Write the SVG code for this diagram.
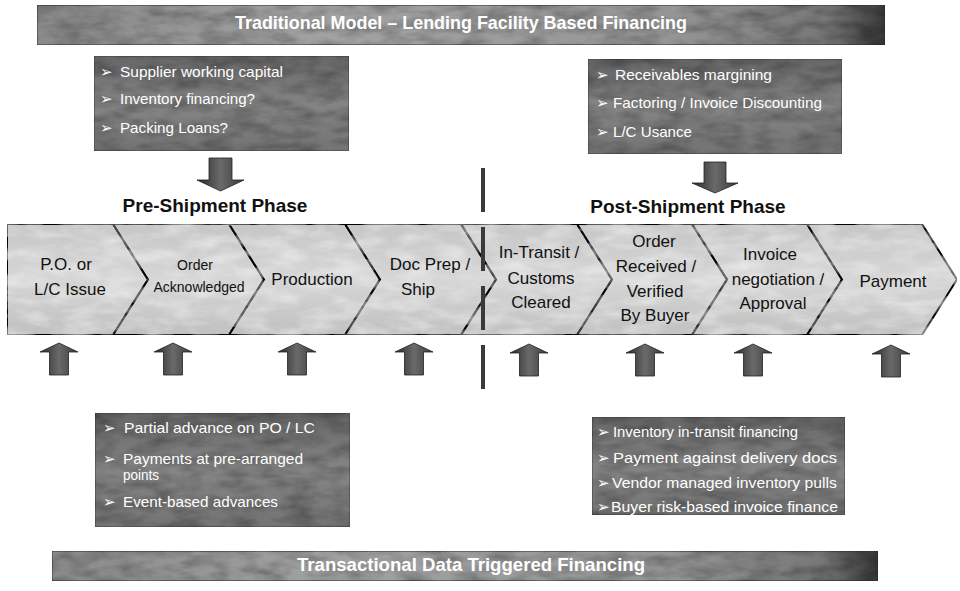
<svg xmlns="http://www.w3.org/2000/svg" width="960" height="591" viewBox="0 0 960 591">
<defs>
  <filter id="mottle" x="0" y="0" width="1" height="1">
    <feTurbulence type="fractalNoise" baseFrequency="0.035 0.09" numOctaves="3" seed="7" result="n"/>
    <feColorMatrix in="n" type="matrix" values="0 0 0 0 0  0 0 0 0 0  0 0 0 0 0  0 0 0 0.9 -0.3" result="shade"/>
    <feComposite in="shade" in2="SourceGraphic" operator="in" result="s"/>
    <feMerge><feMergeNode in="SourceGraphic"/><feMergeNode in="s"/></feMerge>
  </filter>
  <filter id="mottleLight" x="0" y="0" width="1" height="1">
    <feTurbulence type="fractalNoise" baseFrequency="0.03 0.08" numOctaves="3" seed="11" result="n"/>
    <feColorMatrix in="n" type="matrix" values="0 0 0 0 1  0 0 0 0 1  0 0 0 0 1  0 0 0 0.8 -0.3" result="shade"/>
    <feComposite in="shade" in2="SourceGraphic" operator="in" result="s"/>
    <feMerge><feMergeNode in="SourceGraphic"/><feMergeNode in="s"/></feMerge>
  </filter>
  <linearGradient id="bannerG" x1="0" y1="0" x2="1" y2="0">
    <stop offset="0" stop-color="#8a8a8a"/>
    <stop offset="0.35" stop-color="#a2a2a2"/>
    <stop offset="0.75" stop-color="#959595"/>
    <stop offset="0.93" stop-color="#777"/>
    <stop offset="1" stop-color="#3a3a3a"/>
  </linearGradient>
  <linearGradient id="boxG" x1="0" y1="0" x2="0" y2="1">
    <stop offset="0" stop-color="#666"/>
    <stop offset="0.5" stop-color="#858585"/>
    <stop offset="1" stop-color="#737373"/>
  </linearGradient>
  <linearGradient id="chevG" x1="0" y1="0" x2="0" y2="1">
    <stop offset="0" stop-color="#c6c6c6"/>
    <stop offset="0.5" stop-color="#d6d6d6"/>
    <stop offset="1" stop-color="#c0c0c0"/>
  </linearGradient>
  <linearGradient id="arrowG" x1="0" y1="0" x2="1" y2="0">
    <stop offset="0" stop-color="#2a2a2a"/>
    <stop offset="0.5" stop-color="#6a6a6a"/>
    <stop offset="1" stop-color="#3a3a3a"/>
  </linearGradient>
  <style>
    .banner { fill: url(#bannerG); stroke: #333; stroke-width: 1; }
    .btxt { font-family: "Liberation Sans", Arial, sans-serif; font-size: 19px; font-weight: bold; fill: #fff; text-anchor: middle; }
    .box { fill: url(#boxG); stroke: #444; stroke-width: 1; }
    .ltxt { font-family: "Liberation Sans", Arial, sans-serif; font-size: 15px; fill: #fff; }
    .bul { font-family: "DejaVu Sans", sans-serif; font-size: 15px; fill: #fff; }
    .chev { fill: url(#chevG); stroke: #000; stroke-width: 2; stroke-linejoin: miter; }
    .ctxt { font-family: "Liberation Sans", Arial, sans-serif; font-size: 17px; fill: #111; text-anchor: middle; }
    .stxt { font-family: "Liberation Sans", Arial, sans-serif; font-size: 14px; fill: #111; text-anchor: middle; }
    .phase { font-family: "Liberation Sans", Arial, sans-serif; font-size: 19px; font-weight: bold; fill: #111; text-anchor: middle; }
    .blk { fill: url(#arrowG); stroke: #222; stroke-width: 0.8; }
  </style>
</defs>
<rect width="960" height="591" fill="#fff"/>

<g id="top-banner">
  <rect class="banner" x="37" y="5" width="848" height="40" filter="url(#mottle)"/>
  <text class="btxt" x="461" y="29" textLength="452" lengthAdjust="spacingAndGlyphs">Traditional Model – Lending Facility Based Financing</text>
</g>

<g id="pre-lending-box">
  <rect class="box" x="94" y="56" width="255" height="95" filter="url(#mottle)"/>
  <text class="bul" x="100" y="77">➢</text>
  <text class="ltxt" x="120" y="77" textLength="163" lengthAdjust="spacingAndGlyphs">Supplier working capital</text>
  <text class="bul" x="100" y="104">➢</text>
  <text class="ltxt" x="120" y="104" textLength="135" lengthAdjust="spacingAndGlyphs">Inventory financing?</text>
  <text class="bul" x="100" y="133">➢</text>
  <text class="ltxt" x="120" y="133" textLength="108" lengthAdjust="spacingAndGlyphs">Packing Loans?</text>
</g>

<g id="post-lending-box">
  <rect class="box" x="588" y="59" width="254" height="95" filter="url(#mottle)"/>
  <text class="bul" x="596" y="80">➢</text>
  <text class="ltxt" x="615" y="80" textLength="157" lengthAdjust="spacingAndGlyphs">Receivables margining</text>
  <text class="bul" x="596" y="108">➢</text>
  <text class="ltxt" x="613" y="108" textLength="209" lengthAdjust="spacingAndGlyphs">Factoring / Invoice Discounting</text>
  <text class="bul" x="596" y="137">➢</text>
  <text class="ltxt" x="613" y="137" textLength="79" lengthAdjust="spacingAndGlyphs">L/C Usance</text>
</g>

<g id="pre-phase-label">
  <text class="phase" x="215" y="212">Pre-Shipment Phase</text>
</g>
<g id="post-phase-label">
  <text class="phase" x="688" y="213">Post-Shipment Phase</text>
</g>

<g id="step-po">
  <polygon class="chev" points="7,224 113,224 148,279.5 113,335 7,335" filter="url(#mottleLight)"/>
  <text class="ctxt" x="66" y="270">P.O. or</text>
  <text class="ctxt" x="70" y="295">L/C Issue</text>
</g>
<g id="step-ack">
  <polygon class="chev" points="113,224 229,224 264,279.5 229,335 113,335 148,279.5" filter="url(#mottleLight)"/>
  <text class="stxt" x="195" y="270">Order</text>
  <text class="stxt" x="199" y="292">Acknowledged</text>
</g>
<g id="step-production">
  <polygon class="chev" points="229,224 345,224 380,279.5 345,335 229,335 264,279.5" filter="url(#mottleLight)"/>
  <text class="ctxt" x="312" y="285">Production</text>
</g>
<g id="step-docprep">
  <polygon class="chev" points="345,224 461,224 496,279.5 461,335 345,335 380,279.5" filter="url(#mottleLight)"/>
  <text class="ctxt" x="430" y="270">Doc Prep /</text>
  <text class="ctxt" x="418" y="295">Ship</text>
</g>
<g id="step-transit">
  <polygon class="chev" points="461,224 577,224 612,279.5 577,335 461,335 496,279.5" filter="url(#mottleLight)"/>
  <text class="ctxt" x="539" y="258">In-Transit /</text>
  <text class="ctxt" x="541" y="284">Customs</text>
  <text class="ctxt" x="541" y="308">Cleared</text>
</g>
<g id="step-received">
  <polygon class="chev" points="577,224 692,224 727,279.5 692,335 577,335 612,279.5" filter="url(#mottleLight)"/>
  <text class="ctxt" x="654" y="247">Order</text>
  <text class="ctxt" x="656" y="272">Received /</text>
  <text class="ctxt" x="655" y="297">Verified</text>
  <text class="ctxt" x="655" y="321">By Buyer</text>
</g>
<g id="step-invoice">
  <polygon class="chev" points="692,224 807,224 842,279.5 807,335 692,335 727,279.5" filter="url(#mottleLight)"/>
  <text class="ctxt" x="770" y="260">Invoice</text>
  <text class="ctxt" x="778" y="285">negotiation /</text>
  <text class="ctxt" x="773" y="309">Approval</text>
</g>
<g id="step-payment">
  <polygon class="chev" points="807,224 922,224 957,279.5 922,335 807,335 842,279.5" filter="url(#mottleLight)"/>
  <text class="ctxt" x="893" y="287">Payment</text>
</g>

<g id="pre-transactional-box">
  <rect class="box" x="95" y="413" width="255" height="114" filter="url(#mottle)"/>
  <text class="bul" x="103" y="433">➢</text>
  <text class="ltxt" x="124" y="433" textLength="191" lengthAdjust="spacingAndGlyphs">Partial advance on PO / LC</text>
  <text class="bul" x="103" y="464">➢</text>
  <text class="ltxt" x="123" y="464" font-size="14" textLength="180" lengthAdjust="spacingAndGlyphs">Payments at pre-arranged</text>
  <text class="ltxt" x="123" y="480" font-size="14" textLength="36" lengthAdjust="spacingAndGlyphs">points</text>
  <text class="bul" x="103" y="507">➢</text>
  <text class="ltxt" x="123" y="507" textLength="155" lengthAdjust="spacingAndGlyphs">Event-based advances</text>
</g>

<g id="post-transactional-box">
  <rect class="box" x="592" y="417" width="253" height="98" filter="url(#mottle)"/>
  <text class="bul" x="597" y="437">➢</text>
  <text class="ltxt" x="613" y="437" textLength="185" lengthAdjust="spacingAndGlyphs">Inventory in-transit financing</text>
  <text class="bul" x="597" y="463">➢</text>
  <text class="ltxt" x="613" y="463" textLength="224" lengthAdjust="spacingAndGlyphs">Payment against delivery docs</text>
  <text class="bul" x="597" y="488">➢</text>
  <text class="ltxt" x="612" y="488" textLength="225" lengthAdjust="spacingAndGlyphs">Vendor managed inventory pulls</text>
  <text class="bul" x="597" y="512">➢</text>
  <text class="ltxt" x="611" y="512" textLength="227" lengthAdjust="spacingAndGlyphs">Buyer risk-based invoice finance</text>
</g>

<g id="bottom-banner">
  <rect class="banner" x="52" y="551" width="826" height="30" filter="url(#mottle)"/>
  <text class="btxt" x="471" y="571" font-size="18" textLength="348" lengthAdjust="spacingAndGlyphs">Transactional Data Triggered Financing</text>
</g>

<g id="connectors">
  <line x1="483" y1="168" x2="483" y2="389" stroke="#3a3a3a" stroke-width="4" stroke-dasharray="44 15"/>
  <polygon class="blk" points="209,158 232,158 232,180 244,180 220.5,191 197,180 209,180"/>
  <polygon class="blk" points="704,162 726,162 726,183 738,183 715,193 692,183 704,183"/>
  <polygon class="blk" points="59,343 78,352 68.5,352 68.5,375 49.5,375 49.5,352 40,352"/>
  <polygon class="blk" points="173,343 192,352 182.5,352 182.5,375 163.5,375 163.5,352 154,352"/>
  <polygon class="blk" points="297,343 316,352 306.5,352 306.5,375 287.5,375 287.5,352 278,352"/>
  <polygon class="blk" points="414,343 433,352 423.5,352 423.5,375 404.5,375 404.5,352 395,352"/>
  <polygon class="blk" points="529,344 548,353 538.5,353 538.5,376 519.5,376 519.5,353 510,353"/>
  <polygon class="blk" points="645,344 664,353 654.5,353 654.5,376 635.5,376 635.5,353 626,353"/>
  <polygon class="blk" points="753,344 772,353 762.5,353 762.5,376 743.5,376 743.5,353 734,353"/>
  <polygon class="blk" points="891,345 910,354 900.5,354 900.5,377 881.5,377 881.5,354 872,354"/>
</g>
</svg>
